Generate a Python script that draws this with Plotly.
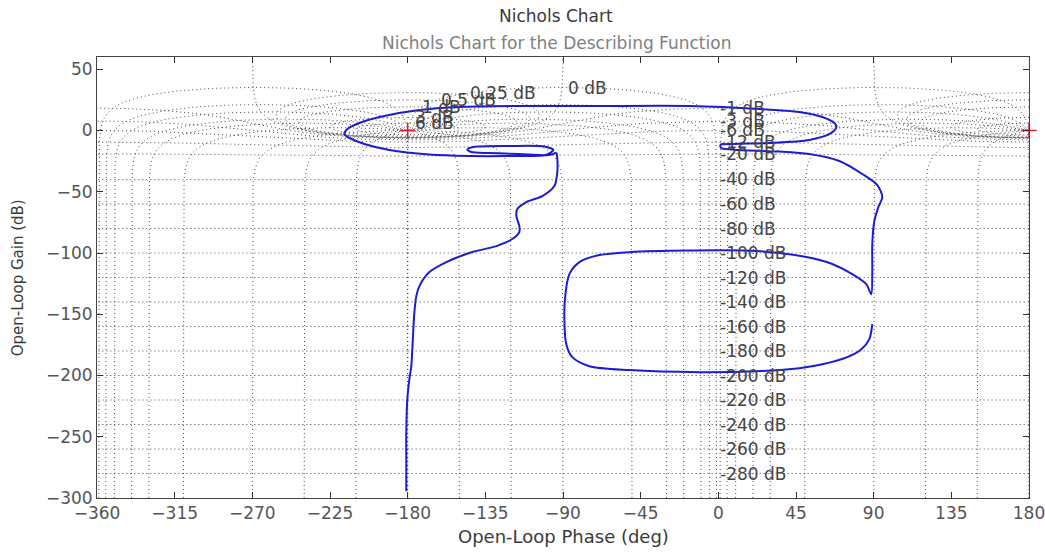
import numpy as np
import plotly.graph_objects as go

# Open-loop response of the describing-function loop: phase (deg) and gain (dB)
loop_phase = [-180.8, -180.8, -180.8, -180.2, -179.0, -177.9, -177.3, -176.7, -176.1, -175.0,
              -173.2, -167.4, -157.6, -142.5, -128.6, -119.4, -115.3, -115.3, -117.0, -116.5,
              -111.2, -102.0, -95.0, -93.3, -93.3, -93.9,
              -97.9, -115.3, -132.7, -143.1, -145.4, -142.0, -121.1, -100.8, -95.6, -100.2,
              -121.1, -144.3, -167.4, -190.6, -205.1, -213.8, -216.7, -214.9, -208.0, -193.5,
              -173.2, -150.1, -115.3, -68.9, -16.8, 23.8, 46.9, 60.3, 67.2, 68.4,
              65.5, 52.7, 29.5, 9.3, 1.2, 1.7, 12.2, 35.3, 52.7, 70.1,
              83.4, 92.1, 95.0, 92.7, 90.4, 89.2, 89.2, 88.6,
              85.7, 77.6, 66.0, 51.0, 22.0, -16.8, -51.6, -68.9, -80.5, -86.3,
              -88.6, -89.2, -88.1, -84.6, -74.7, -51.6, -11.0, 22.0, 46.9, 60.3,
              74.7, 82.9, 87.5, 89.2]
loop_gain = [-294.5, -268.4, -246.3, -219.4, -203.0, -192.4, -178.5, -162.2, -148.3, -135.2,
             -127.0, -115.6, -107.4, -99.2, -94.4, -88.6, -82.9, -78.0, -69.9, -64.1,
             -58.4, -53.5, -45.3, -33.9, -23.3, -18.4,
             -20.0, -19.2, -18.4, -17.6, -15.5, -13.5, -12.7, -13.1, -15.9, -20.0,
             -20.8, -20.8, -19.6, -15.9, -11.0, -6.1, -2.9, 1.2, 6.1, 11.8,
             16.7, 19.2, 20.0, 20.0, 20.0, 17.6, 15.1, 11.0, 6.1, 2.9,
             -2.0, -7.8, -10.2, -11.0, -11.8, -14.3, -15.9, -17.2, -19.2, -24.9,
             -35.5, -44.5, -54.3, -62.5, -73.9, -92.7, -113.2, -133.6,
             -125.4, -117.2, -109.0, -103.3, -98.4, -98.0, -99.3, -101.7, -107.4, -117.2,
             -133.6, -154.0, -174.4, -185.0, -192.4, -195.6, -197.3, -196.5, -194.0, -190.8,
             -185.0, -178.5, -170.3, -158.1]

# Critical points (-1 in the open-loop plane)
crit_phase = [-180, 180]
crit_gain = [0, 0]

# Nichols grid: closed-loop gains (dB) and closed-loop phases (deg)
grid_gains = [6, 3, 1, 0.5, 0.25, 0, -1, -3, -6, -12, -20, -40, -60, -80, -100,
              -120, -140, -160, -180, -200, -220, -240, -260, -280]
grid_phases = [-1, -5, -10, -20, -30, -50, -90, -120, -150, -180]

# Label placement of the closed-loop gain contours with gain >= 0 dB
pos_label_phase = {6: -177, 3: -177, 1: -173, 0.5: -162, 0.25: -145, 0: -88}
zero_db_label_gain = 35

x_ticks = list(range(-360, 181, 45))
y_ticks = list(range(-300, 51, 50))

FONT = 'DejaVu Sans'


def m_contour(db):
    """Constant closed-loop magnitude curve, returned as phase/gain copies."""
    M = 10 ** (db / 20)
    if M < 1:
        n = 500 if db <= -20 else 900
        th = np.unique(np.concatenate([np.linspace(-np.pi, np.pi, n),
                                       np.linspace(-0.4, 0.4, 600)]))
        T = M * np.exp(1j * th)
        ph = np.degrees(th - np.angle(1 - T))
        offsets = [0, -360]
    else:
        eps = 1e-4
        th = np.unique(np.concatenate([np.linspace(eps, 2 * np.pi - eps, 1200),
                                       np.linspace(eps, 0.4, 600),
                                       np.linspace(2 * np.pi - 0.4, 2 * np.pi - eps, 600)]))
        T = M * np.exp(1j * th)
        ph = np.degrees(th - np.angle(1 - T)) - 360
        offsets = [0, 360]
    g = 20 * np.log10(np.abs(T / (1 - T)))
    return [(ph + o, g) for o in offsets]


def n_contour(cl_phase):
    """Constant closed-loop phase curve and its mirror image, with 360 deg copies."""
    th = np.radians(cl_phase)
    m = np.unique(np.concatenate([np.logspace(-16, 5, 900), np.linspace(0.7, 1.3, 800)]))
    T = m * np.exp(1j * th)
    ph = np.degrees(th - np.angle(1 - T))
    g = 20 * np.log10(np.abs(T / (1 - T)))
    return [(ph, g), (-360 - ph, g), (ph + 360, g), (-ph, g)]


gx, gy = [], []
for db in grid_gains:
    for ph, g in m_contour(db):
        keep = (g < 80) & (g > -320)
        gx.extend(ph[keep].tolist() + [None])
        gy.extend(g[keep].tolist() + [None])
for cp in grid_phases:
    for ph, g in n_contour(cp):
        keep = (g < 80) & (g > -320)
        gx.extend(ph[keep].tolist() + [None])
        gy.extend(g[keep].tolist() + [None])

fig = go.Figure()
fig.add_trace(go.Scatter(x=gx, y=gy, mode='lines', hoverinfo='skip', showlegend=False,
                         line=dict(color='#454545', width=1, dash='1px,3px')))
fig.add_trace(go.Scatter(x=loop_phase, y=loop_gain, mode='lines', showlegend=False,
                         line=dict(color='#1c1cd4', width=2, shape='spline', smoothing=0.8)))
fig.add_trace(go.Scatter(x=crit_phase, y=crit_gain, mode='markers', showlegend=False,
                         cliponaxis=False,
                         marker=dict(symbol='cross-thin', size=11,
                                     line=dict(color='#e0202a', width=1.5))))

# Contour labels
label_font = dict(family=FONT, size=17, color='#444444')
for db in grid_gains:
    M = 10 ** (db / 20)
    if db >= 0:
        lx = pos_label_phase[db]
        ly = zero_db_label_gain if M == 1 else 20 * np.log10(M / (M - 1))
    else:
        lx = 0
        ly = 20 * np.log10(M / (1 - M))
    fig.add_annotation(x=lx, y=ly, text=f'{db:g} dB', showarrow=False,
                       xanchor='left', yanchor='middle', font=label_font)

fig.add_annotation(xref='paper', yref='paper', x=0.493, y=1.093, text='Nichols Chart',
                   showarrow=False, xanchor='center', yanchor='middle',
                   font=dict(family=FONT, size=17, color='#3a3a3a'))
fig.add_annotation(xref='paper', yref='paper', x=0.493, y=1.032,
                   text='Nichols Chart for the Describing Function',
                   showarrow=False, xanchor='center', yanchor='middle',
                   font=dict(family=FONT, size=17, color='#808080'))
fig.add_annotation(xref='paper', yref='paper', x=0.5, y=-0.088, text='Open-Loop Phase (deg)',
                   showarrow=False, xanchor='center', yanchor='middle',
                   font=dict(family=FONT, size=18, color='#3a3a3a'))
fig.add_annotation(xref='paper', yref='paper', x=-0.085, y=0.5, text='Open-Loop Gain (dB)',
                   showarrow=False, xanchor='center', yanchor='middle', textangle=-90,
                   font=dict(family=FONT, size=15, color='#3a3a3a'))

axis_common = dict(ticks='inside', ticklen=6, tickcolor='#333333', showline=True,
                   linecolor='#444444', linewidth=1, mirror='ticks', showgrid=False,
                   zeroline=False, automargin=False, ticklabeloverflow='allow',
                   tickfont=dict(family=FONT, size=17, color='#555555'))
fig.update_xaxes(range=[-360, 180], tickvals=x_ticks, **axis_common)
fig.update_yaxes(range=[-300, 60], tickvals=y_ticks, **axis_common)

fig.update_layout(width=1045, height=552, margin=dict(l=97, r=16, t=57, b=54),
                  plot_bgcolor='white', paper_bgcolor='white', showlegend=False)

fig.write_html('out.html')
